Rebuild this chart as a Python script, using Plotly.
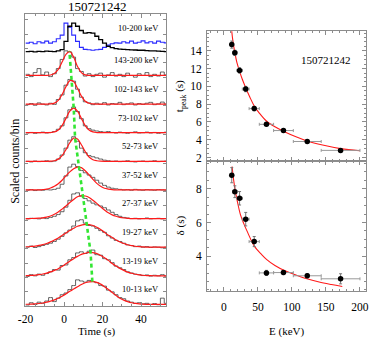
import plotly.graph_objects as go

W, H = 372, 338

# ---------------- data ----------------
# time bins (s), bin centres of the light curves
t_bins = [-19, -17, -15, -13, -11, -9, -7, -5, -3, -1, 1, 3, 5, 7, 9, 11, 13, 15, 17, 19,
          21, 23, 25, 27, 29, 31, 33, 35, 37, 39, 41, 43, 45, 47, 49, 51, 53]

# energy channels, lowest strip first
bands = ["10-13 keV", "13-19 keV", "19-27 keV", "27-37 keV", "37-52 keV",
         "52-73 keV", "73-102 keV", "102-143 keV", "143-200 keV"]
e_mid = [11.5, 16, 23, 32, 44.5, 62.5, 87.5, 122.5, 171.5]
e_half = [1.5, 3, 4, 5, 7.5, 10.5, 14.5, 20.5, 28.5]

# pulse peak time and width per channel
t_peak = [14.7, 13.77, 11.8, 9.7, 7.5, 5.73, 5.03, 3.8, 2.8]
t_peak_err = [0.4, 0.3, 0.3, 0.3, 0.25, 0.15, 0.15, 0.15, 0.2]
delta = [8.81, 7.83, 7.44, 6.2, 4.87, 3.01, 3.03, 2.84, 2.66]
delta_err = [0.45, 0.35, 0.4, 0.4, 0.3, 0.15, 0.12, 0.12, 0.3]
fit_peak = [0.86, 0.88, 0.86, 0.86, 0.86, 0.87, 0.92, 0.88, 0.90]

# scaled counts per bin, one list per channel
counts = [
    [.04, .12, .06, .14, .10, .18, .30, .16, .28, .40, .46, .58, .72, .92, .88, .84, .90, .86, .82, .72,
     .70, .56, .50, .40, .30, .26, .18, .14, .10, .12, .08, .10, .06, .09, .05, .28, .10],
    [.04, .10, .06, .12, .08, .14, .20, .28, .26, .42, .44, .62, .70, .86, .90, .84, .92, .96, .80, .78,
     .66, .62, .52, .40, .34, .28, .20, .16, .12, .10, .07, .09, .05, .08, .06, .10, .05],
    [.06, .10, .05, .08, .12, .16, .20, .26, .34, .44, .56, .66, .80, .98, 1.02, .90, .82, .80, .72, .64,
     .58, .46, .38, .30, .26, .20, .14, .12, .08, .10, .06, .08, .05, .07, .06, .04, .06],
    [.05, .07, .06, .05, .08, .06, .10, .14, .20, .30, .46, .70, .92, .96, .84, .76, .68, .60, .54, .50,
     .44, .36, .28, .20, .14, .10, .08, .06, .07, .05, .06, .08, .05, .06, .07, .05, .06],
    [.05, .07, .04, .06, .05, .07, .06, .08, .12, .26, .55, .86, .96, .88, .74, .66, .58, .50, .40, .30,
     .22, .16, .12, .10, .08, .06, .07, .05, .08, .06, .05, .07, .06, .05, .07, .06, .05],
    [.06, .04, .07, .05, .06, .08, .05, .07, .14, .28, .52, .80, .92, .76, .52, .36, .26, .22, .18, .14,
     .10, .08, .06, .07, .05, .06, .08, .05, .04, .06, .07, .05, .06, .08, .05, .06, .07],
    [.05, .07, .04, .06, .08, .05, .07, .10, .18, .30, .58, .86, .96, .80, .55, .30, .20, .15, .12, .10,
     .08, .10, .07, .05, .08, .06, .04, .07, .09, .05, .06, .08, .05, .07, .04, .06, .08],
    [.04, .08, .02, .10, .06, .03, .09, .05, .22, .38, .72, .92, .86, .58, .30, .14, .10, .04, .09, .05,
     .11, .03, .08, .06, .12, .04, .07, .10, .03, .08, .05, .09, .12, .04, .07, .13, .06],
    [.10, .02, .16, .30, .08, .18, .02, .12, .30, .62, .92, .88, .70, .30, .20, .04, .12, .02, .10, .14,
     .00, .08, .16, .04, .10, .02, .14, .06, .00, .12, .06, .16, .02, .10, .04, .18, .08],
]

# fitted pulse profile per channel, sampled on t_bins
fits = [
    [.067, .073, .081, .094, .112, .14, .174, .22, .28, .35, .43, .52, .60, .68, .76, .82, .85, .86, .83, .77,
     .68, .58, .48, .37, .28, .21, .16, .12, .097, .08, .07, .065, .062, .06, .06, .06, .06],
    [.07, .076, .086, .10, .125, .156, .197, .25, .31, .39, .48, .57, .66, .74, .81, .85, .88, .87, .84, .77,
     .69, .60, .49, .40, .32, .25, .19, .15, .116, .094, .08, .07, .065, .062, .06, .06, .06],
    [.076, .086, .10, .123, .153, .19, .245, .31, .38, .47, .56, .64, .72, .79, .83, .86, .85, .82, .76, .68,
     .58, .48, .40, .31, .24, .19, .145, .114, .094, .08, .07, .065, .062, .06, .06, .06, .06],
    [.06, .063, .067, .074, .088, .112, .15, .21, .29, .39, .50, .62, .73, .82, .86, .85, .80, .70, .59, .47,
     .36, .26, .19, .14, .10, .08, .07, .06, .06, .06, .06, .06, .06, .06, .06, .06, .06],
    [.06, .061, .063, .066, .074, .09, .13, .19, .28, .40, .55, .69, .80, .86, .84, .73, .59, .43, .29, .19,
     .12, .09, .07, .06, .06, .06, .06, .06, .06, .06, .06, .06, .06, .06, .06, .06, .06],
    [.06, .06, .06, .06, .06, .06, .065, .08, .137, .26, .47, .71, .87, .84, .64, .40, .21, .115, .08, .065,
     .06, .06, .06, .06, .06, .06, .06, .06, .06, .06, .06, .06, .06, .06, .06, .06, .06],
    [.06, .06, .06, .06, .06, .06, .065, .087, .155, .31, .56, .81, .92, .81, .56, .31, .155, .087, .065, .06,
     .06, .06, .06, .06, .06, .06, .06, .06, .06, .06, .06, .06, .06, .06, .06, .06, .06],
    [.06, .06, .06, .06, .06, .06, .065, .095, .19, .39, .67, .88, .85, .61, .34, .16, .09, .065, .06, .06,
     .06, .06, .06, .06, .06, .06, .06, .06, .06, .06, .06, .06, .06, .06, .06, .06, .06],
    [.06, .06, .06, .06, .06, .06, .077, .13, .27, .53, .80, .90, .70, .37, .16, .08, .062, .06, .06, .06,
     .06, .06, .06, .06, .06, .06, .06, .06, .06, .06, .06, .06, .06, .06, .06, .06, .06],
]

# full-band (10-200 keV) light curves in the top strip
full_black = [.04, .05, .035, .05, .045, .06, .05, .045, .07, .11, .40, .93, 1.04, .93, .78, .69, .71, .69, .58, .46,
              .34, .23, .18, .15, .13, .12, .115, .105, .10, .09, .09, .08, .07, .07, .06, .05, .045]
full_blue = [.34, .37, .32, .39, .35, .41, .34, .39, .49, .62, 1.04, .90, .62, .40, .19, .12, .11, .09, .11, .12,
             .19, .27, .32, .35, .34, .39, .35, .41, .34, .37, .42, .35, .39, .34, .41, .37, .35]

# fitted trends vs energy
tfit_e = [11.5, 13, 16, 19, 23, 27, 32, 38, 44.5, 52, 62.5, 75, 87.5, 105, 122.5, 145, 171.5, 200]
tfit_v = [16.2, 15.2, 13.8, 12.7, 11.7, 10.8, 9.85, 8.8, 7.8, 7.0, 6.1, 5.45, 4.95, 4.35, 3.85, 3.4, 3.0, 2.75]
dfit_e = [12, 14, 17, 20, 24, 29, 35, 44.6, 55, 63, 75, 89, 105, 122, 140, 158, 174]
dfit_v = [9.33, 8.6, 7.8, 7.2, 6.5, 5.95, 5.4, 4.6, 4.12, 3.8, 3.45, 3.15, 2.9, 2.66, 2.47, 2.32, 2.2]

tpeak_ticks = [2, 4, 6, 8, 10, 12, 14]
delta_ticks = [4, 6, 8]
energy_ticks = [0, 50, 100, 150, 200]
time_ticks = [-20, 0, 20, 40]

grb_id = "150721242"

# ---------------- figure ----------------
SERIF = "Liberation Serif"
FRAME = "#8c8c8c"
TOP_OFFSET = 8.85

fig = go.Figure()


def pad(vals):
    return [vals[0]] + list(vals) + [vals[-1]]


tx = [-20] + t_bins + [54]

# top strip
fig.add_trace(go.Scatter(x=tx, y=[TOP_OFFSET + v for v in pad(full_blue)], mode="lines",
                         line=dict(color="#2a2aff", width=1.1, shape="hvh"), xaxis="x", yaxis="y"))
fig.add_trace(go.Scatter(x=tx, y=[TOP_OFFSET + v for v in pad(full_black)], mode="lines",
                         line=dict(color="black", width=1.3, shape="hvh"), xaxis="x", yaxis="y"))

for i in range(len(bands)):
    fig.add_trace(go.Scatter(x=tx, y=[i + v for v in pad(counts[i])], mode="lines",
                             line=dict(color="#505050", width=0.9, shape="hvh"), xaxis="x", yaxis="y"))
for i in range(len(bands)):
    fig.add_trace(go.Scatter(x=tx, y=[i + v for v in pad(fits[i])], mode="lines",
                             line=dict(color="#ff1a1a", width=1.2, shape="spline", smoothing=1.0),
                             xaxis="x", yaxis="y"))

# peak-time track across the channels
fig.add_trace(go.Scatter(x=t_peak, y=[i + p for i, p in enumerate(fit_peak)], mode="lines",
                         line=dict(color="#33e633", width=2.6, dash="4px,3px"), xaxis="x", yaxis="y"))

# right: t_peak vs E
fig.add_trace(go.Scatter(x=tfit_e, y=tfit_v, mode="lines",
                         line=dict(color="#ff1a1a", width=1.1, shape="spline"), xaxis="x2", yaxis="y2"))
fig.add_trace(go.Scatter(x=e_mid, y=t_peak, mode="markers",
                         marker=dict(color="black", size=5.5),
                         error_x=dict(type="data", array=e_half, color="#999999", thickness=1, width=1.5),
                         error_y=dict(type="data", array=t_peak_err, color="#777777", thickness=1, width=1.5),
                         xaxis="x2", yaxis="y2"))

# right: delta vs E
fig.add_trace(go.Scatter(x=dfit_e, y=dfit_v, mode="lines",
                         line=dict(color="#ff1a1a", width=1.1, shape="spline"), xaxis="x3", yaxis="y3"))
fig.add_trace(go.Scatter(x=e_mid, y=delta, mode="markers",
                         marker=dict(color="black", size=5.5),
                         error_x=dict(type="data", array=e_half, color="#999999", thickness=1, width=1.5),
                         error_y=dict(type="data", array=delta_err, color="#777777", thickness=1, width=1.5),
                         xaxis="x3", yaxis="y3"))


def dom_x(a, b):
    return [a / W, b / W]


def dom_y(top, bottom):
    return [1 - bottom / H, 1 - top / H]


axis_common = dict(showline=True, linecolor=FRAME, linewidth=1, mirror="ticks", ticks="inside",
                   tickcolor=FRAME, showgrid=False, zeroline=False,
                   tickfont=dict(family=SERIF, size=11.5, color="black"))

LEFT = (18, 163)
RIGHT = (205, 369)

fig.update_layout(
    width=W, height=H, margin=dict(l=0, r=0, t=0, b=0),
    paper_bgcolor="white", plot_bgcolor="white", showlegend=False,
    xaxis=dict(domain=dom_x(*LEFT), range=[-20, 53], anchor="y", tickvals=time_ticks,
               ticktext=[str(v) for v in time_ticks], ticklen=4, ticklabelstandoff=2,
               minor=dict(dtick=5, tick0=0, ticklen=2, ticks="inside", tickcolor=FRAME),
               **axis_common),
    yaxis=dict(domain=dom_y(14, 308), range=[0, 10.21], anchor="x",
               tickvals=[k * 0.5 for k in range(21)], showticklabels=False, ticklen=3,
               **axis_common),
    xaxis2=dict(domain=dom_x(*RIGHT), range=[-25, 209], anchor="y2", tickvals=energy_ticks,
                showticklabels=False, ticklen=4,
                minor=dict(dtick=10, tick0=0, ticklen=2, ticks="inside", tickcolor=FRAME),
                **axis_common),
    yaxis2=dict(domain=dom_y(31, 162), range=[1.6, 16.25], anchor="x2", tickvals=tpeak_ticks,
                ticklen=4, ticklabelstandoff=2,
                minor=dict(dtick=0.5, tick0=0, ticklen=2, ticks="inside", tickcolor=FRAME),
                **axis_common),
    xaxis3=dict(domain=dom_x(*RIGHT), range=[-25, 209], anchor="y3", tickvals=energy_ticks,
                ticklen=4, ticklabelstandoff=5,
                minor=dict(dtick=10, tick0=0, ticklen=2, ticks="inside", tickcolor=FRAME),
                **axis_common),
    yaxis3=dict(domain=dom_y(162, 293), range=[1.92, 9.65], anchor="x3", tickvals=delta_ticks,
                ticklen=4, ticklabelstandoff=2,
                minor=dict(dtick=0.5, tick0=0, ticklen=2, ticks="inside", tickcolor=FRAME),
                **axis_common),
)

ann = []


def paper_text(text, x, y, size, angle=0):
    ann.append(dict(text=text, x=x / W, y=1 - y / H, xref="paper", yref="paper",
                    showarrow=False, textangle=angle, xanchor="center", yanchor="middle",
                    font=dict(family=SERIF, size=size, color="black")))


paper_text(grb_id, 92, 7, 13)
paper_text("Time (s)", 92, 333, 11)
paper_text("E (keV)", 287, 333, 11)
paper_text("Scaled counts/bin", 7, 162, 12, angle=-90)
paper_text("t<sub>peak</sub> (s)", 178, 97, 11, angle=-90)
paper_text("δ (s)", 178, 227, 11, angle=-90)

# band labels inside the left panel (x in seconds, y in strip units)
label_font = dict(family=SERIF, size=8.5, color="black")
ann.append(dict(text="10-200 keV", x=50.5, y=9.72, xref="x", yref="y", xanchor="right",
                yanchor="middle", showarrow=False, font=label_font))
for i, b in enumerate(bands):
    ann.append(dict(text=b, x=50.5, y=i + 0.59, xref="x", yref="y", xanchor="right",
                    yanchor="middle", showarrow=False, font=label_font))

ann.append(dict(text=grb_id, x=150, y=13.0, xref="x2", yref="y2", xanchor="center", yanchor="middle",
                showarrow=False, font=dict(family=SERIF, size=11, color="black")))

fig.update_layout(annotations=ann)

fig.write_html("out.html")
